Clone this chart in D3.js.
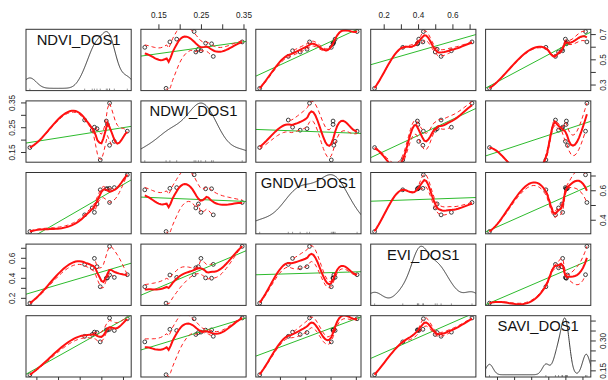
<!DOCTYPE html>
<html><head><meta charset="utf-8">
<script src="https://cdn.jsdelivr.net/npm/d3@7/dist/d3.min.js"></script>
<style>
html,body{margin:0;padding:0;background:#fff;}
svg{display:block;}
text{font-family:"Liberation Sans",Arial,Helvetica,sans-serif;}
</style></head><body>
<svg id="chart" width="608" height="380"></svg>
<script>
// ---------------- data ----------------
const variables = ["NDVI_DOS1", "NDWI_DOS1", "GNDVI_DOS1", "EVI_DOS1", "SAVI_DOS1"];
const NDVI  = [0.270, 0.523, 0.558, 0.568, 0.580, 0.595, 0.623, 0.628, 0.638, 0.638, 0.660, 0.720];
const NDWI  = [0.168, 0.279, 0.238, 0.250, 0.244, 0.118, 0.275, 0.261, 0.347, 0.177, 0.193, 0.234];
const GNDVI = [0.320, 0.433, 0.480, 0.450, 0.507, 0.603, 0.610, 0.610, 0.517, 0.613, 0.618, 0.705];
const EVI   = [0.147, 0.534, 0.500, 0.594, 0.511, 0.311, 0.396, 0.399, 0.714, 0.428, 0.404, 0.431];
const SAVI  = [0.128, 0.321, 0.330, 0.342, 0.340, 0.293, 0.353, 0.352, 0.413, 0.356, 0.350, 0.409];

const ticksNDVI  = [0.3, 0.4, 0.5, 0.6, 0.7];
const ticksNDWI  = [0.15, 0.20, 0.25, 0.30, 0.35];
const ticksGNDVI = [0.4, 0.5, 0.6, 0.7];
const ticksEVI   = [0.2, 0.3, 0.4, 0.5, 0.6, 0.7];
const ticksSAVI  = [0.15, 0.20, 0.25, 0.30, 0.35, 0.40];
const labelsNDVI  = ["0.3", "0.5", "0.7"];
const labelsNDWI  = ["0.15", "0.25", "0.35"];
const labelsGNDVI = ["0.4", "0.6"];
const labelsEVI   = ["0.2", "0.4", "0.6"];
const labelsSAVI  = ["0.15", "0.30"];

const data = [NDVI, NDWI, GNDVI, EVI, SAVI];
const ticks = [ticksNDVI, ticksNDWI, ticksGNDVI, ticksEVI, ticksSAVI];
const labels = [labelsNDVI, labelsNDWI, labelsGNDVI, labelsEVI, labelsSAVI];

// ---------------- layout ----------------
const X0 = 26, CSTEP = 114.9, PW = 105.2;
const Y0 = 29.3, RSTEP = 71.6, PH = 61.3;
const K = variables.length, N = NDVI.length;
const FONT = '"Liberation Sans",Arial,Helvetica,sans-serif';

const domains = data.map(v => {
  const [a, b] = d3.extent(v); const r = b - a;
  return [a - 0.04 * r, b + 0.04 * r];
});
const xScale = domains.map((d, j) => d3.scaleLinear().domain(d).range([X0 + j * CSTEP, X0 + j * CSTEP + PW]));
const yScale = domains.map((d, i) => d3.scaleLinear().domain(d).range([Y0 + i * RSTEP + PH, Y0 + i * RSTEP]));

// ---------------- loess (R-style, 1-D kd tree + hermite interpolation) ----------------
function lowesw(res) {
  const n = res.length, a = res.map(Math.abs), s = a.slice().sort((p, q) => p - q);
  const nh = Math.floor(n / 2) + 1;
  const cmad = ((n - nh) + 1 < nh) ? 3 * (s[nh - 1] + s[nh - 2]) : 6 * s[nh - 1];
  if (cmad < 1e-300) return a.map(() => 1);
  return a.map(r => r > 0.999 * cmad ? 0 : (r > 0.001 * cmad ? Math.pow(1 - (r / cmad) ** 2, 2) : 1));
}
function solve(A, b) {
  const m = b.length; A = A.map(r => r.slice()); b = b.slice();
  let mx = 0; A.forEach(r => r.forEach(v => mx = Math.max(mx, Math.abs(v))));
  for (let c = 0; c < m; c++) {
    let p = c; for (let r = c + 1; r < m; r++) if (Math.abs(A[r][c]) > Math.abs(A[p][c])) p = r;
    if (Math.abs(A[p][c]) < 1e-9 * mx) return null;
    [A[c], A[p]] = [A[p], A[c]]; [b[c], b[p]] = [b[p], b[c]];
    for (let r = c + 1; r < m; r++) { const f = A[r][c] / A[c][c]; for (let k = c; k < m; k++) A[r][k] -= f * A[c][k]; b[r] -= f * b[c]; }
  }
  const x = new Array(m).fill(0);
  for (let r = m - 1; r >= 0; r--) { let s = b[r]; for (let k = r + 1; k < m; k++) s -= A[r][k] * x[k]; x[r] = s / A[r][r]; }
  return x;
}
function loess(x, y, span, degree, iterations) {
  const n = x.length;
  const q = Math.min(n, Math.floor(n * span + 1e-5));
  if (q <= 0 || n < 1) return null;
  const xs = x.slice().sort((a, b) => a - b);
  const mn = xs[0], mx = xs[n - 1];
  const mu = 0.005 * Math.max(mx - mn, 1e-10 * Math.max(Math.abs(mn), Math.abs(mx)) + 1e-30);
  const lo = mn - mu, hi = mx + mu;
  const fc = Math.floor(n * span * 0.2);
  let verts = [lo, hi];
  const cells = [[0, n - 1, lo, hi]];
  for (let p = 0; p < cells.length && p < 2000; p++) {
    const [l, u, vl, vh] = cells[p];
    if (u - l + 1 <= fc) continue;
    if (!(vh - vl > 0)) continue;
    let m = Math.floor((l + u) / 2), off = 0;
    while (true) {
      if (m + off >= u || m + off < l) break;
      if (xs[m + off] === xs[m + off + 1]) { off = -off; if (off >= 0) off += 1; }
      else { m = m + off; break; }
    }
    const xi = xs[m];
    if (xi === vl || xi === vh) continue;
    verts.push(xi);
    cells.push([l, m, vl, xi], [m + 1, u, xi, vh]);
  }
  verts = Array.from(new Set(verts)).sort((a, b) => a - b);
  function local(z, rw) {
    const d = x.map(v => Math.abs(v - z));
    const h = d.slice().sort((a, b) => a - b)[q - 1];
    const w = d.map((di, i) => {
      if (h <= 0) return di === 0 ? rw[i] : 0;
      const u = di / h; return u < 1 ? rw[i] * Math.pow(1 - u * u * u, 3) : 0;
    });
    const hs = h > 0 ? h : 1;
    for (let deg = degree; deg >= 0; deg--) {
      const m = deg + 1;
      const A = Array.from({length: m}, () => new Array(m).fill(0)), b = new Array(m).fill(0);
      let tw = 0;
      for (let i = 0; i < n; i++) {
        if (w[i] <= 0) continue; tw += w[i];
        const t = (x[i] - z) / hs, pw = [1, t, t * t].slice(0, m);
        for (let r = 0; r < m; r++) { b[r] += w[i] * pw[r] * y[i]; for (let c = 0; c < m; c++) A[r][c] += w[i] * pw[r] * pw[c]; }
      }
      if (tw <= 0) return [NaN, 0];
      const c = solve(A, b);
      if (c) return [c[0], deg >= 1 ? c[1] / hs : 0];
    }
    return [NaN, 0];
  }
  let vv = null;
  function interp(z) {
    if (z < lo - 1e-12 || z > hi + 1e-12) return NaN;
    let k = 0; while (k < verts.length - 2 && verts[k + 1] < z) k++;
    const v0 = verts[k], v1 = verts[k + 1], hh = v1 - v0;
    const [g0, s0] = vv[k], [g1, s1] = vv[k + 1];
    const t = hh > 0 ? (z - v0) / hh : 0;
    const phi0 = (1 - t) * (1 - t) * (1 + 2 * t), phi1 = t * t * (3 - 2 * t);
    const psi0 = t * (1 - t) * (1 - t), psi1 = -t * t * (1 - t);
    return phi0 * g0 + phi1 * g1 + (psi0 * s0 + psi1 * s1) * hh;
  }
  let rw = new Array(n).fill(1), res = null;
  for (let it = 0; it < iterations; it++) {
    vv = verts.map(z => local(z, rw));
    const fitted = x.map(interp);
    res = y.map((v, i) => v - fitted[i]);
    if (it < iterations - 1) rw = lowesw(res);
  }
  return {predict: interp, residuals: res};
}

// ---------------- drawing ----------------
const svg = d3.select("#chart");
const defs = svg.append("defs");
const SPAN = 0.5, DEG = 1, ITER = 1;

function kdeBw(v) {
  const s = v.slice().sort((a, b) => a - b);
  const hi = d3.deviation(v);
  let lo = Math.min(hi, (d3.quantile(s, 0.75) - d3.quantile(s, 0.25)) / 1.34);
  if (!(lo > 0)) lo = hi || Math.abs(s[0]) || 1;
  return 0.9 * lo * Math.pow(v.length, -0.2);
}

for (let i = 0; i < K; i++) {
  for (let j = 0; j < K; j++) {
    const px = X0 + j * CSTEP, py = Y0 + i * RSTEP;
    const xs = xScale[j], ys = yScale[i];
    const cid = `clip-${i}-${j}`;
    defs.append("clipPath").attr("id", cid).append("rect")
      .attr("x", px).attr("y", py).attr("width", PW).attr("height", PH);
    const g = svg.append("g");
    const gc = g.append("g").attr("clip-path", `url(#${cid})`);
    if (i === j) {
      const v = data[i];
      const bw = kdeBw(v);
      const [mn, mx] = d3.extent(v);
      const grid = d3.range(512).map(k => mn - 3 * bw + k * (mx - mn + 6 * bw) / 511);
      const dens = grid.map(gx => d3.mean(v, t => Math.exp(-0.5 * ((gx - t) / bw) ** 2)) / (bw * Math.sqrt(2 * Math.PI)));
      const [dmin, dmax] = d3.extent(dens);
      const pts = grid.map((gx, k) => [gx, mn + dens[k] * (mx - mn) / (dmax - dmin)]);
      gc.append("path").datum(pts)
        .attr("d", d3.line().x(d => xs(d[0])).y(d => ys(d[1])))
        .attr("fill", "none").attr("stroke", "#222").attr("stroke-width", 0.9);
      gc.selectAll("line.rug").data(v).join("line").attr("class", "rug")
        .attr("x1", d => xs(d)).attr("x2", d => xs(d))
        .attr("y1", py + PH).attr("y2", py + PH - 2)
        .attr("stroke", "#555").attr("stroke-width", 0.6);
      g.append("text").attr("x", px + PW / 2).attr("y", py + 0.1667 * PH + 5.3)
        .attr("text-anchor", "middle").style("font-size", "14.8px").attr("fill", "#111")
        .attr("font-family", FONT).text(variables[i]);
    } else {
      const xv = data[j], yv = data[i];
      gc.selectAll("circle").data(d3.range(N)).join("circle")
        .attr("cx", k => xs(xv[k])).attr("cy", k => ys(yv[k])).attr("r", 1.9)
        .attr("fill", "none").attr("stroke", "#111").attr("stroke-width", 0.8);
      // linear regression
      const mxv = d3.mean(xv), myv = d3.mean(yv);
      const b1 = d3.sum(xv, (t, k) => (t - mxv) * (yv[k] - myv)) / d3.sum(xv, t => (t - mxv) ** 2);
      const b0 = myv - b1 * mxv;
      const [d0, d1] = xs.domain();
      gc.append("line").attr("x1", xs(d0)).attr("x2", xs(d1))
        .attr("y1", ys(b0 + b1 * d0)).attr("y2", ys(b0 + b1 * d1))
        .attr("stroke", "#2dbb2d").attr("stroke-width", 1);
      // loess smoother and spread
      const ord = d3.range(N).sort((a, b) => xv[a] - xv[b]);
      const sx = ord.map(k => xv[k]), sy = ord.map(k => yv[k]);
      const fit = loess(sx, sy, SPAN, DEG, ITER);
      if (fit) {
        const [xmin, xmax] = d3.extent(sx);
        const xe = d3.range(50).map(k => xmin + k * (xmax - xmin) / 49);
        const ye = xe.map(fit.predict);
        const line = d3.line().defined(d => isFinite(d[1])).x(d => xs(d[0])).y(d => ys(d[1]));
        const res = fit.residuals;
        const pos = res.map(r => r > 0);
        [true, false].forEach(sign => {
          const subX = sx.filter((_, k) => pos[k] === sign);
          const subY = res.filter((_, k) => pos[k] === sign).map(r => r * r);
          const sf = subX.length ? loess(subX, subY, SPAN, 0, ITER) : null;
          if (!sf) return;
          const yy = xe.map((t, k) => {
            const p = sf.predict(t);
            return ye[k] + (sign ? 1 : -1) * Math.sqrt(p);
          });
          gc.append("path").datum(xe.map((t, k) => [t, yy[k]]))
            .attr("d", line).attr("fill", "none").attr("stroke", "#ff2020")
            .attr("stroke-width", 1).attr("stroke-dasharray", "4,3");
        });
        gc.append("path").datum(xe.map((t, k) => [t, ye[k]]))
          .attr("d", line).attr("fill", "none").attr("stroke", "#ff1010").attr("stroke-width", 2);
      }
    }
    g.append("rect").attr("x", px).attr("y", py).attr("width", PW).attr("height", PH)
      .attr("fill", "none").attr("stroke", "#333").attr("stroke-width", 1);
  }
}

// ---------------- axes ----------------
function fmtFor(k) {
  const dec = labels[k][0].split(".")[1].length;
  const f = d3.format(`.${dec}f`);
  return d => labels[k].includes(f(d)) ? f(d) : "";
}
function styleAxis(g) {
  g.select(".domain").remove();
  g.selectAll(".tick line").attr("stroke", "#333");
  g.selectAll("text").attr("fill", "#222").attr("font-family", FONT).style("font-size", "8.2px");
}
const lastRowBottom = Y0 + (K - 1) * RSTEP + PH;
const lastColRight = X0 + (K - 1) * CSTEP + PW;
for (let j = 0; j < K; j++) {
  if (j % 2 === 1) {
    svg.append("g").attr("transform", `translate(0,${Y0})`)
      .call(d3.axisTop(xScale[j]).tickValues(ticks[j]).tickFormat(fmtFor(j)).tickSize(5).tickPadding(5.9))
      .call(styleAxis);
  } else {
    svg.append("g").attr("transform", `translate(0,${lastRowBottom})`)
      .call(d3.axisBottom(xScale[j]).tickValues(ticks[j]).tickFormat(() => "").tickSize(5))
      .call(styleAxis);
  }
}
for (let i = 0; i < K; i++) {
  if (i % 2 === 1) {
    svg.append("g").attr("transform", `translate(${X0},0)`)
      .call(d3.axisLeft(yScale[i]).tickValues(ticks[i]).tickFormat(fmtFor(i)).tickSize(5))
      .call(styleAxis)
      .call(g => g.selectAll("text").attr("x", null).attr("dy", null).attr("text-anchor", "middle")
        .attr("transform", "translate(-10.9,0) rotate(-90)"));
  } else {
    svg.append("g").attr("transform", `translate(${lastColRight},0)`)
      .call(d3.axisRight(yScale[i]).tickValues(ticks[i]).tickFormat(fmtFor(i)).tickSize(5))
      .call(styleAxis)
      .call(g => g.selectAll("text").attr("x", null).attr("dy", null).attr("text-anchor", "middle")
        .attr("transform", "translate(15.6,0) rotate(-90)"));
  }
}
</script>
</body></html>
